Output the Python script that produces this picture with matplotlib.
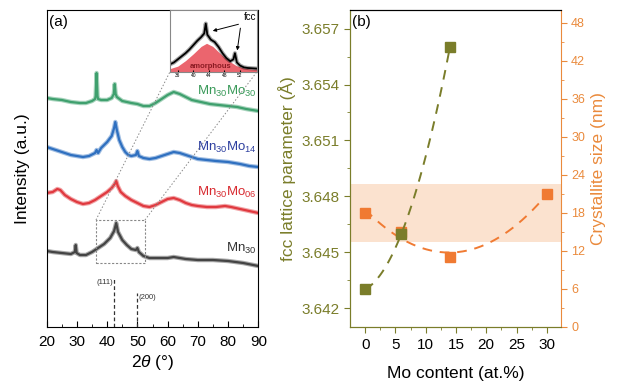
import numpy as np
import matplotlib
matplotlib.use("Agg")
import matplotlib.pyplot as plt

plt.rcParams['font.family'] = ['Liberation Sans', 'DejaVu Sans']
plt.rcParams['mathtext.fontset'] = 'custom'
plt.rcParams['mathtext.rm'] = 'Liberation Sans'
plt.rcParams['mathtext.it'] = 'Liberation Sans:italic'
plt.rcParams['mathtext.bf'] = 'Liberation Sans:bold'

# ---------------- data: panel (a) XRD (2theta, intensity a.u.) ----------------
g_tt = [20, 22, 25, 28, 31, 33, 35, 36, 36.2, 36.5, 36.8, 37, 38, 40, 41.5, 42.2, 42.5, 42.8, 43.2, 45, 48, 50, 52, 54, 56, 58, 60, 62, 64, 66, 68, 71, 74, 77, 80, 83, 86, 90]
g_px = [98, 99, 100, 102, 103, 103, 101, 99, 96, 73, 96, 99, 100, 100, 98, 94, 84, 94, 97, 101, 103, 104, 106, 106, 103, 99, 95, 92, 94, 97, 100, 102, 104, 105, 106, 107, 109, 111]

b_tt = [20, 22, 24, 26, 28, 30, 32, 34, 36, 36.5, 37, 38, 40, 41.5, 42.3, 42.7, 43.2, 44, 45, 46, 47, 48, 49.5, 50, 50.5, 52, 54, 56, 58, 60, 62, 64, 66, 68, 70, 73, 76, 80, 84, 87, 90]
b_px = [147, 149, 151, 153, 155, 156, 157, 156, 153, 150, 153, 148, 142, 136, 128, 122, 130, 140, 147, 152, 155, 156, 155, 151, 156, 158, 159, 158, 156, 154, 152, 153, 155, 157, 159, 160, 161, 162, 164, 166, 167]

r_tt = [20, 22, 23.5, 24.5, 26, 28, 30, 32, 34, 36, 38, 40, 41.5, 42.5, 43, 43.5, 44.5, 46, 48, 50, 52, 54, 56, 58, 60, 62, 64, 66, 68, 70, 73, 76, 79, 81, 84, 87, 90]
r_px = [193, 192, 189, 190, 195, 199, 202, 204, 203, 200, 196, 192, 188, 184, 181, 186, 192, 196, 200, 203, 206, 207, 205, 202, 199, 198, 200, 203, 205, 206, 207, 207, 206, 207, 209, 211, 213]

k_tt = [20, 22, 25, 28, 29.3, 29.6, 29.9, 31, 33, 35, 37, 39, 41, 42.3, 43, 43.6, 45, 46.5, 48, 49.5, 50, 50.5, 52, 54, 56, 58, 60, 62, 64, 66, 70, 75, 80, 85, 90]
k_px = [251, 252, 253, 254, 252, 245, 253, 255, 255, 252, 248, 244, 238, 231, 223, 232, 240, 245, 249, 250, 248, 252, 256, 258, 258, 258, 258, 257, 258, 259, 260, 260, 261, 263, 266]

# inset: amorphous hump and measured pattern (normalised)
in_tt = [34, 36, 38, 40, 42, 43.4, 45, 47, 49, 51, 53, 55, 56.3]
in_amor = [0.05, 0.09, 0.18, 0.29, 0.41, 0.46, 0.41, 0.29, 0.18, 0.10, 0.06, 0.04, 0.04]
in_meas_tt = [34, 35, 36, 37, 38, 39, 40, 41, 42, 42.8, 43.2, 43.6, 44.5, 45.5, 46.5, 47.5, 48.5, 49.5, 50.3, 50.7, 51.2, 52, 53, 54, 56.3]
in_meas = [0.12, 0.15, 0.2, 0.25, 0.3, 0.36, 0.43, 0.5, 0.56, 0.62, 0.78, 0.6, 0.52, 0.48, 0.4, 0.3, 0.22, 0.17, 0.2, 0.3, 0.15, 0.1, 0.07, 0.06, 0.05]

# ---------------- data: panel (b) ----------------
mo = [0, 6, 14, 30]
lattice_mo = [0, 6, 14]
lattice = [3.643, 3.646, 3.656]
cryst = [18, 15, 11, 21]
band = (13.3, 22.5)

W, H = 618, 389
fig = plt.figure(figsize=(W / 100, H / 100), dpi=100)

def px_axes(x0, y0, x1, y1):
    return fig.add_axes([x0 / W, 1 - y1 / H, (x1 - x0) / W, (y1 - y0) / H])

# ---------------- panel (a) ----------------
axa = px_axes(46.7, 10, 258.3, 326.7)
Y0 = 326.7
def conv(p):
    return [Y0 - v for v in p]

for tt, pp, col in [(g_tt, g_px, '#3fa06e'), (b_tt, b_px, '#2f70c0'),
                    (r_tt, r_px, '#e0393f'), (k_tt, k_px, '#444444')]:
    axa.plot(tt, conv(pp), color=col, lw=3.2, alpha=0.45)
    axa.plot(tt, conv(pp), color=col, lw=1.6)
axa.set_xlim(20, 90)
axa.set_ylim(0, 316.7)
axa.set_yticks([])
axa.set_xticks(np.arange(20, 91, 10))
axa.set_xticks(np.arange(25, 90, 10), minor=True)
axa.tick_params(axis='x', direction='in', length=4, labelsize=11, pad=6)
axa.tick_params(axis='x', which='minor', direction='in', length=2)
axa.set_xlabel(r'2$\it{\theta}$ (°)', fontsize=12.5, labelpad=3)
axa.set_ylabel('Intensity (a.u.)', fontsize=12.5, labelpad=12)
axa.text(0.01, 0.985, '(a)', transform=axa.transAxes, fontsize=11, va='top', ha='left')

axa.text(89.5, Y0 - 91, r'Mn$_{30}$Mo$_{30}$', color='#3a9a5a', fontsize=9.5, ha='right', va='center')
axa.text(89.5, Y0 - 147, r'Mn$_{30}$Mo$_{14}$', color='#2d3f9f', fontsize=9.5, ha='right', va='center')
axa.text(89.5, Y0 - 192, r'Mn$_{30}$Mo$_{06}$', color='#d82a30', fontsize=9.5, ha='right', va='center')
axa.text(89.5, Y0 - 248, r'Mn$_{30}$', color='#333333', fontsize=9.5, ha='right', va='center')

# reference lines
axa.plot([42.4, 42.4], [0, Y0 - 278], ls=(0, (3, 2)), color='#333333', lw=0.9)
axa.plot([50.0, 50.0], [0, Y0 - 293], ls=(0, (3, 2)), color='#333333', lw=0.9)
axa.text(41.9, Y0 - 283, '(111)', fontsize=5.5, ha='right', va='center', color='#333333')
axa.text(50.5, Y0 - 297.5, '(200)', fontsize=5.5, ha='left', va='center', color='#333333')

# zoom box
bx0, bx1 = 36.3, 52.5
by0, by1 = Y0 - 263.3, Y0 - 220
axa.plot([bx0, bx1, bx1, bx0, bx0], [by0, by0, by1, by1, by0], ls=(0, (2, 1.5)), color='#888888', lw=0.8)

# connector lines
def pxx(x):
    return 20 + (x - 46.7) / 3.023
axa.plot([bx0, pxx(170)], [by1, Y0 - 71.7], ls=(0, (1.5, 2)), color='#888888', lw=0.7)
axa.plot([bx1, pxx(257)], [by1, Y0 - 71.7], ls=(0, (1.5, 2)), color='#888888', lw=0.7)

# inset
axi = px_axes(170, 10, 256.7, 71.7)
axi.fill_between(in_tt, 0, in_amor, color='#e84a55', alpha=0.85, lw=0)
axi.plot(in_meas_tt, in_meas, color='black', lw=3.0, alpha=0.35)
axi.plot(in_meas_tt, in_meas, color='black', lw=1.3)
axi.set_xlim(34, 56.3)
axi.set_ylim(0, 1)
axi.set_yticks([])
axi.set_xticks([36, 40, 44, 48, 52])
axi.tick_params(axis='x', direction='in', length=1.5, labelsize=3.5, pad=1)
for s in axi.spines.values():
    s.set_color('#888888')
    s.set_linewidth(0.8)
axi.text(44.5, 0.02, 'amorphous', fontsize=5.5, color='#8a1a22', ha='center', va='bottom', fontweight='bold')
axi.text(54.6, 0.89, 'fcc', fontsize=7, ha='center', va='center')
axi.annotate('', xy=(44.3, 0.65), xytext=(52.3, 0.78),
             arrowprops=dict(arrowstyle='-|>', color='black', lw=0.7, mutation_scale=5))
axi.annotate('', xy=(51.2, 0.30), xytext=(52.2, 0.75),
             arrowprops=dict(arrowstyle='-|>', color='black', lw=0.7, mutation_scale=5))

# ---------------- panel (b) ----------------
olive = '#7a7d2a'
orange = '#f07a32'
orange_txt = '#ea8a3c'
axb = px_axes(350, 10, 560.7, 326.7)
axc = axb.twinx()

axc.axhspan(band[0], band[1], color='#fbe2cf', zorder=0, lw=0)

cf = np.polyfit(lattice_mo, lattice, 2)
xs = np.linspace(0, 14, 100)
axb.plot(xs, np.polyval(cf, xs), ls=(0, (5, 4)), color=olive, lw=1.4, zorder=3)
axb.plot(lattice_mo, lattice, 's', color=olive, ms=7, zorder=4)

cf2 = np.polyfit(mo, cryst, 2)
xs2 = np.linspace(0, 30, 200)
axc.plot(xs2, np.polyval(cf2, xs2), ls=(0, (5, 4)), color=orange, lw=1.4, zorder=3)
axc.plot(mo, cryst, 's', color=orange, ms=7, zorder=5)

axb.set_zorder(axc.get_zorder() + 1)
axb.patch.set_visible(False)

axb.set_xlim(-2.5, 32.3)
axb.set_ylim(3.641, 3.658)
axc.set_ylim(0, 50)
axb.set_xticks([0, 5, 10, 15, 20, 25, 30])
axb.set_xticks(np.arange(2.5, 30, 5), minor=True)
axb.set_yticks([3.642, 3.645, 3.648, 3.651, 3.654, 3.657])
axb.set_yticklabels(['3.642', '3.645', '3.648', '3.651', '3.654', '3.657'])
axb.set_yticks(np.arange(3.6435, 3.657, 0.003), minor=True)
axc.set_yticks(np.arange(0, 49, 6))
axc.set_yticks(np.arange(3, 49, 6), minor=True)

axb.tick_params(axis='x', direction='out', length=4, labelsize=11, color=olive, pad=4)
axb.tick_params(axis='x', which='minor', direction='out', length=2, color=olive)
axb.tick_params(axis='y', direction='out', length=4, labelsize=11, colors=olive)
axb.tick_params(axis='y', which='minor', direction='out', length=2, color=olive)
axc.tick_params(axis='y', direction='out', length=4, labelsize=9, colors=orange_txt)
axc.tick_params(axis='y', which='minor', direction='out', length=2, color=orange_txt)

axb.spines['left'].set_color(olive)
axb.spines['bottom'].set_color(olive)
axc.spines['left'].set_color(olive)
axc.spines['bottom'].set_color(olive)
axc.spines['right'].set_color(orange_txt)
axb.spines['right'].set_visible(False)

axb.set_ylabel('fcc lattice parameter (Å)', color=olive, fontsize=12.5, labelpad=4)
axc.set_ylabel('Crystallite size (nm)', color=orange_txt, fontsize=12.5, labelpad=4)
axb.set_xlabel('Mo content (at.%)', fontsize=12.5, labelpad=10)
axb.text(0.01, 0.985, '(b)', transform=axb.transAxes, fontsize=11, va='top', ha='left')

fig.savefig('out.png', dpi=100)
